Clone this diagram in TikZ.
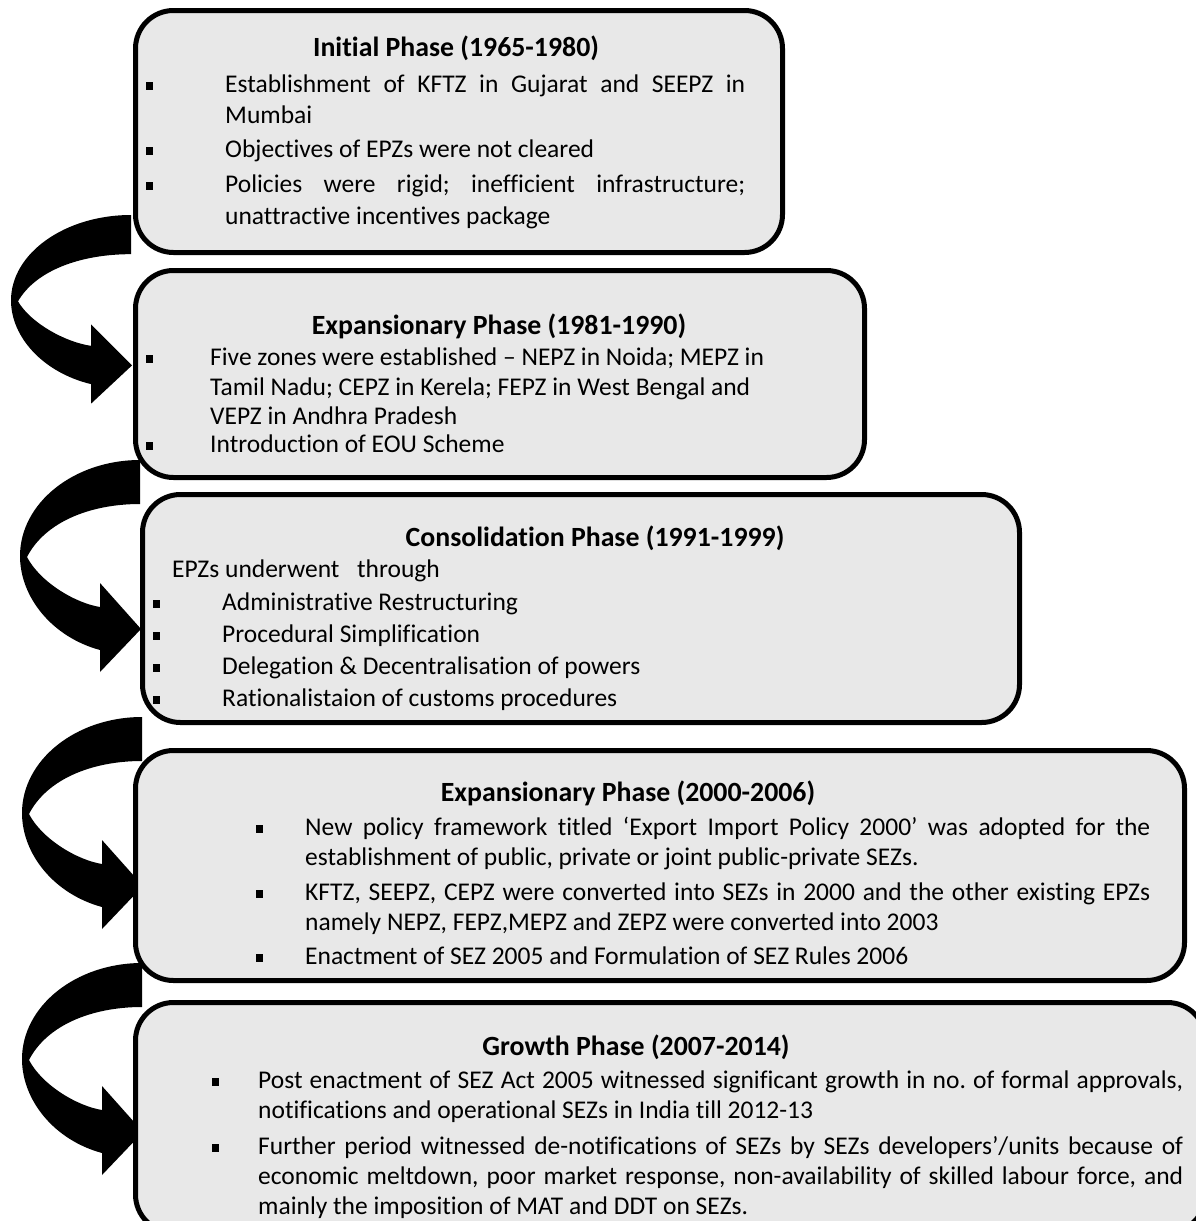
\documentclass[tikz,border=0pt]{standalone}
\usepackage{fontspec}
\setmainfont{Carlito}[Ligatures={NoCommon}]
\definecolor{boxfill}{RGB}{232,232,232}
\newcommand\bsq[1]{\makebox[#1][l]{\rule[2pt]{6.5pt}{8pt}}}
\newcommand\jl[2]{\makebox[#1][s]{#2}}
\frenchspacing
\begin{document}
\begin{tikzpicture}[x=1pt,y=-1pt,
  phasebox/.style={draw=black, line width=5pt, fill=boxfill, rounded corners=38pt, anchor=north west, inner sep=0pt},
  body/.style={anchor=base west, inner sep=0pt, font=\fontsize{25.5}{31}\selectfont\frenchspacing},
  ttl/.style={anchor=base, inner sep=0pt, font=\fontsize{27.8}{33}\selectfont\bfseries},
  curvearrow/.pic={\fill[black] (0,0) .. controls (-66,0) and (-120,43) .. (-120,96)
      .. controls (-120,137) and (-88,177) .. (-40,190) -- (-40,212) -- (1,169) -- (-40,123) -- (-40,147)
      .. controls (-65,143) and (-100,122) .. (-113,97)
      .. controls (-95,62) and (-50,44) .. (0,44) -- cycle;}
]
\useasboundingbox (0,0) rectangle (1196,1221);
\clip (0,0) rectangle (1196,1221);

% curved arrows
\pic[yscale=0.89] (a1) at (131,215) {curvearrow};
\pic (a2) at (140,460) {curvearrow};
\pic (a3) at (142,717) {curvearrow};
\pic (a4) at (142,963) {curvearrow};

% boxes
\node[phasebox, minimum width=647pt, minimum height=242pt] (b1) at (133,8) {};
\node[phasebox, minimum width=729pt, minimum height=207pt] (b2) at (133,268) {};
\node[phasebox, minimum width=877pt, minimum height=228pt] (b3) at (140,492) {};
\node[phasebox, minimum width=1049pt, minimum height=230pt] (b4) at (133,748) {};
\node[phasebox, minimum width=1070pt, minimum height=230pt] (b5) at (133,1000) {};

% box 1
\node[ttl] (t1) at (456,56) {Initial Phase (1965-1980)};
\node[body] (t1a) at (146,92) {\bsq{79pt}\jl{520pt}{Establishment of KFTZ in Gujarat and SEEPZ in}};
\node[body] (t1b) at (225,123) {Mumbai};
\node[body] (t1c) at (146,157) {\bsq{79pt}Objectives of EPZs were not cleared};
\node[body] (t1d) at (146,192) {\bsq{79pt}\jl{520pt}{Policies were rigid; inefficient infrastructure;}};
\node[body] (t1e) at (225,224) {unattractive incentives package};

% box 2
\node[ttl] (t2) at (499,334) {Expansionary Phase (1981-1990)};
\node[body] (t2a) at (146,365) {\bsq{64pt}Five zones were established – NEPZ in Noida; MEPZ in};
\node[body] (t2b) at (210,395) {Tamil Nadu; CEPZ in Kerela; FEPZ in West Bengal and};
\node[body] (t2c) at (210,424) {VEPZ in Andhra Pradesh};
\node[body] (t2d) at (146,452) {\bsq{64pt}Introduction of EOU Scheme};

% box 3
\node[ttl] (t3) at (595,546) {Consolidation Phase (1991-1999)};
\node[body] (t3a) at (172,577) {EPZs underwent\hspace{12pt} through};
\node[body] (t3b) at (153,610) {\bsq{69pt}Administrative Restructuring};
\node[body] (t3c) at (153,642) {\bsq{69pt}Procedural Simplification};
\node[body] (t3d) at (153,674) {\bsq{69pt}Delegation \& Decentralisation of powers};
\node[body] (t3e) at (153,706) {\bsq{69pt}Rationalistaion of customs procedures};

% box 4
\node[ttl] (t4) at (628,801) {Expansionary Phase (2000-2006)};
\node[body] (t4a) at (256,835) {\bsq{49pt}\jl{845pt}{New policy framework titled ‘Export Import Policy 2000’ was adopted for the}};
\node[body] (t4b) at (305,865) {establishment of public, private or joint public-private SEZs.};
\node[body] (t4c) at (256,900) {\bsq{49pt}\jl{845pt}{KFTZ, SEEPZ, CEPZ were converted into SEZs in 2000 and the other existing EPZs}};
\node[body] (t4d) at (305,930) {namely NEPZ, FEPZ,MEPZ and ZEPZ were converted into 2003};
\node[body] (t4e) at (256,964) {\bsq{49pt}Enactment of SEZ 2005 and Formulation of SEZ Rules 2006};

% box 5
\node[ttl] (t5) at (636,1055) {Growth Phase (2007-2014)};
\node[body] (t5a) at (212,1088) {\bsq{46pt}\jl{925pt}{Post enactment of SEZ Act 2005 witnessed significant growth in no. of formal approvals,}};
\node[body] (t5b) at (258,1118) {notifications and operational SEZs in India till 2012-13};
\node[body] (t5c) at (212,1154) {\bsq{46pt}\jl{925pt}{Further period witnessed de-notifications of SEZs by SEZs developers’/units because of}};
\node[body] (t5d) at (258,1184) {\jl{925pt}{economic meltdown, poor market response, non-availability of skilled labour force, and}};
\node[body] (t5e) at (258,1214) {mainly the imposition of MAT and DDT on SEZs.};
\end{tikzpicture}
\end{document}
